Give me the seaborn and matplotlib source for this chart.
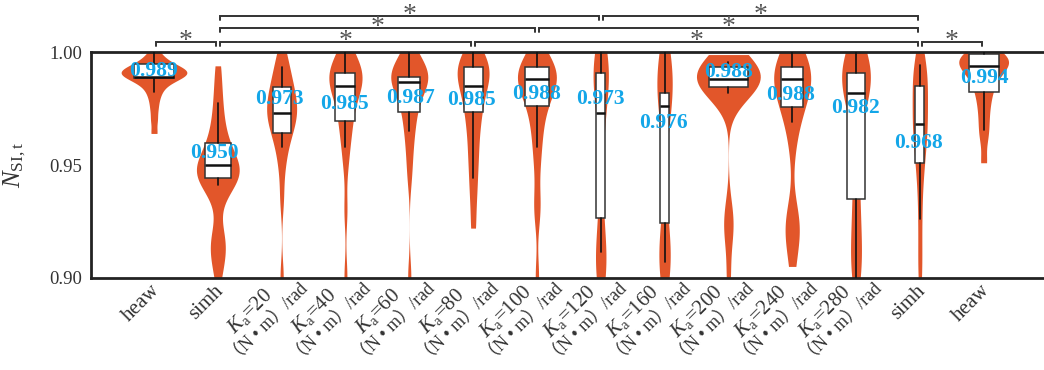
import numpy as np
import matplotlib
matplotlib.use("Agg")
import matplotlib.pyplot as plt
import matplotlib.transforms as mtransforms
import seaborn as sns

# ---- categories (left to right) ----
x_labels = ["heaw", "simh", "20", "40", "60", "80", "100", "120",
            "160", "200", "240", "280", "simh", "heaw"]

# ---- per-condition N_SI,t samples ----
heaw_left = [0.964, 0.970, 0.975, 0.979, 0.982, 0.984, 0.986, 0.987, 0.988, 0.989,
             0.989, 0.990, 0.990, 0.991, 0.991, 0.991, 0.992, 0.992, 0.993, 0.993,
             0.994, 0.995, 0.996, 0.998, 1.000]
simh_left = [0.900, 0.907, 0.911, 0.914, 0.917, 0.922, 0.935, 0.939, 0.941, 0.943,
             0.944, 0.945, 0.946, 0.947, 0.948, 0.949, 0.950, 0.951, 0.953, 0.955,
             0.957, 0.960, 0.963, 0.967, 0.972, 0.978, 0.985, 0.994]
ka20 = [0.900, 0.935, 0.948, 0.955, 0.960, 0.963, 0.966, 0.968, 0.970, 0.972, 0.973,
        0.974, 0.976, 0.978, 0.980, 0.982, 0.984, 0.986, 0.989, 0.992, 0.996, 1.000]
ka40 = [0.900, 0.930, 0.950, 0.958, 0.964, 0.968, 0.971, 0.975, 0.979, 0.982, 0.984,
        0.985, 0.986, 0.988, 0.989, 0.990, 0.991, 0.992, 0.994, 0.996, 0.998, 1.000]
ka60 = [0.900, 0.945, 0.955, 0.962, 0.968, 0.972, 0.975, 0.979, 0.983, 0.986, 0.987,
        0.988, 0.988, 0.989, 0.989, 0.990, 0.991, 0.993, 0.995, 0.997, 1.000]
ka80 = [0.922, 0.935, 0.944, 0.952, 0.958, 0.965, 0.970, 0.974, 0.978, 0.982, 0.985,
        0.987, 0.989, 0.991, 0.993, 0.994, 0.996, 0.998, 1.000]
ka100 = [0.900, 0.928, 0.935, 0.950, 0.958, 0.965, 0.970, 0.975, 0.978, 0.981, 0.984,
         0.986, 0.987, 0.988, 0.989, 0.990, 0.991, 0.992, 0.993, 0.995, 0.997, 1.000]
ka120 = [0.900, 0.902, 0.905, 0.908, 0.912, 0.918, 0.927, 0.940, 0.955, 0.965, 0.973,
         0.978, 0.983, 0.987, 0.990, 0.992, 0.994, 0.996, 0.998, 1.000]
ka160 = [0.900, 0.903, 0.906, 0.909, 0.913, 0.918, 0.925, 0.940, 0.960, 0.972, 0.976,
         0.978, 0.981, 0.985, 0.989, 0.992, 0.995, 0.998, 1.000]
ka200 = [0.900, 0.918, 0.924, 0.930, 0.981, 0.983, 0.984, 0.985, 0.986, 0.987, 0.987,
         0.988, 0.988, 0.989, 0.989, 0.990, 0.990, 0.991, 0.992, 0.993, 0.994, 0.995,
         0.997, 0.999]
ka240 = [0.905, 0.917, 0.921, 0.924, 0.928, 0.958, 0.969, 0.974, 0.977, 0.980, 0.983,
         0.986, 0.988, 0.989, 0.990, 0.992, 0.994, 0.996, 0.998, 1.000]
ka280 = [0.900, 0.905, 0.912, 0.920, 0.930, 0.940, 0.955, 0.968, 0.976, 0.981, 0.982,
         0.985, 0.988, 0.990, 0.992, 0.994, 0.996, 0.998, 1.000]
simh_right = [0.900, 0.912, 0.926, 0.938, 0.948, 0.952, 0.958, 0.962, 0.966, 0.968,
              0.971, 0.975, 0.979, 0.983, 0.986, 0.989, 0.992, 0.995, 1.000]
heaw_right = [0.951, 0.962, 0.968, 0.974, 0.979, 0.983, 0.986, 0.989, 0.991, 0.993,
              0.994, 0.995, 0.996, 0.997, 0.998, 0.998, 0.999, 1.000]

# ---- box statistics ----
medians = [0.989, 0.950, 0.973, 0.985, 0.987, 0.985, 0.988, 0.973, 0.976, 0.988,
           0.988, 0.982, 0.968, 0.994]
q1 = [0.9888, 0.9441, 0.9641, 0.9697, 0.9736, 0.9734, 0.9763, 0.9266, 0.9244, 0.9845,
      0.9759, 0.9348, 0.9508, 0.9825]
q3 = [0.9948, 0.9599, 0.9847, 0.9910, 0.9892, 0.9936, 0.9936, 0.9910, 0.9818, 0.9936,
      0.9936, 0.9907, 0.9852, 0.9991]
whisker_low = [0.9823, 0.9411, 0.9578, 0.9578, 0.9651, 0.9444, 0.9581, 0.9115, 0.9071,
               0.9818, 0.9692, 0.9000, 0.9260, 0.9655]
whisker_high = [1.000, 0.9774, 0.9936, 1.000, 1.000, 1.000, 1.000, 1.000, 1.000, 0.9955,
                1.000, 1.000, 0.9944, 1.000]

# ---- significance brackets: (from, to, level) ----
brackets = [(0, 1, 1), (1, 5, 1), (5, 12, 1), (12, 13, 1),
            (1, 6, 2), (6, 12, 2), (1, 7, 3), (7, 12, 3)]

# ---- styling ----
violin_widths = [1.03, 0.67, 0.47, 0.52, 0.58, 0.50, 0.61, 0.24, 0.24, 1.00,
                 0.58, 0.45, 0.24, 0.78]
label_dx = [0, -3, -2, -1, 1, -2, 0, 0, -1, 0, -2, -1, -1, 1]      # pixels
label_dy = [-6, -12, -14, 18, 16, 14, 15, -14, 17, -7, 16, 15, 19, 12]  # pixels, down
bracket_y = {1: 1.00457, 2: 1.01078, 3: 1.0161}
VIOLIN = "#E2562A"
LABEL = "#13A6E8"
INK = "#222222"

samples = [heaw_left, simh_left, ka20, ka40, ka60, ka80, ka100, ka120,
           ka160, ka200, ka240, ka280, simh_right, heaw_right]

sns.set_theme(style="white")
plt.rcParams["font.family"] = ["Liberation Serif", "Noto Sans CJK SC"]
plt.rcParams["mathtext.fontset"] = "custom"
plt.rcParams["mathtext.rm"] = "Liberation Serif"
plt.rcParams["mathtext.it"] = "Liberation Serif:italic"
plt.rcParams["mathtext.bf"] = "Liberation Serif:bold"

W, H = 1044, 370
fig = plt.figure(figsize=(W / 100, H / 100), dpi=100)
ax = fig.add_axes([91 / W, 1 - 277.7 / H, (1043 - 91) / W, (277.7 - 52.3) / H])

positions = np.arange(len(x_labels), dtype=float)

for pos, vals, w in zip(positions, samples, violin_widths):
    sns.violinplot(x=np.full(len(vals), pos), y=vals, native_scale=True, orient="x",
                   width=w, density_norm="width", cut=0, inner=None, color=VIOLIN,
                   saturation=1, linewidth=0, bw_adjust=0.6, ax=ax)

stats = [dict(med=m, q1=a, q3=b, whislo=lo, whishi=hi, fliers=[])
         for m, a, b, lo, hi in zip(medians, q1, q3, whisker_low, whisker_high)]
ax.bxp(stats, positions=positions, widths=0.6 * np.array(violin_widths),
       patch_artist=True, showfliers=False, showcaps=False, manage_ticks=False,
       boxprops=dict(facecolor="white", edgecolor="#333333", linewidth=1.1),
       medianprops=dict(color="#111111", linewidth=1.8),
       whiskerprops=dict(color="#111111", linewidth=1.2), zorder=3)

for pos, m, dx, dy in zip(positions, medians, label_dx, label_dy):
    ax.annotate(f"{m:.3f}", xy=(pos, m), xytext=(dx * 0.72, -dy * 0.72),
                textcoords="offset points", ha="center", va="center",
                color=LABEL, fontsize=15.5, fontweight="bold", zorder=6)

drop = 4 / 2254
for a, b, lvl in brackets:
    y = bracket_y[lvl]
    x0, x1 = a + 0.03, b - 0.03
    ax.plot([x0, x0, x1, x1], [y - drop, y, y, y - drop], color="#333333",
            lw=1.4, clip_on=False, solid_joinstyle="miter")
    ax.annotate("*", xy=((x0 + x1) / 2, y), xytext=(0, -6 * 0.72),
                textcoords="offset points", ha="center", va="baseline",
                fontsize=20, color="#555555", annotation_clip=False)

ax.set_xlim(-0.987, 13.93)
ax.set_ylim(0.90, 1.00)
ax.set_yticks([0.90, 0.95, 1.00])
ax.set_yticklabels(["0.90", "0.95", "1.00"], fontsize=13.5, color="#333333")
ax.set_xticks(positions)
ax.set_xticklabels([""] * len(positions))
ax.tick_params(direction="in", length=6, width=1.5, color=INK, pad=6.5)
for side in ("left", "bottom", "top"):
    ax.spines[side].set_linewidth(2)
    ax.spines[side].set_color(INK)
ax.spines["right"].set_visible(False)
ax.set_xlabel("")
ax.set_ylabel(r"$N_{\mathrm{SI,t}}$", fontsize=18, color="#333333")
ax.yaxis.set_label_coords(-0.066, 0.5)

# rotated category labels under the axis
base = ax.get_xaxis_transform()
for pos, lab in zip(positions, x_labels):
    if lab in ("heaw", "simh"):
        tr = mtransforms.offset_copy(base, fig=fig, x=3, y=-10, units="dots")
        ax.text(pos, 0, lab, transform=tr, rotation=45, rotation_mode="anchor",
                ha="right", va="center", fontsize=15, color="#333333")
    else:
        tr1 = mtransforms.offset_copy(base, fig=fig, x=-31.5, y=-33.5, units="dots")
        ax.text(pos, 0, r"$K_{\mathrm{a}}$=" + lab, transform=tr1, rotation=45,
                rotation_mode="anchor", ha="center", va="center", fontsize=15,
                color="#333333")
        tr2 = mtransforms.offset_copy(base, fig=fig, x=-14, y=-46, units="dots")
        ax.text(pos, 0, "（N • m）/rad", transform=tr2, rotation=45,
                rotation_mode="anchor", ha="center", va="center", fontsize=13,
                color="#333333")

fig.savefig("out.png", dpi=100, facecolor="white")
